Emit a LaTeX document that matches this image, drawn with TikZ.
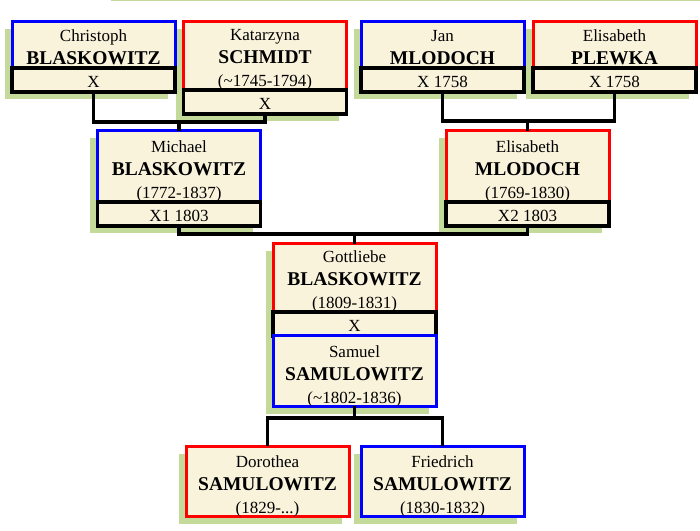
\documentclass[tikz,border=0pt]{standalone}
\usepackage{fontspec}
\setmainfont{Liberation Serif}
\usetikzlibrary{positioning,calc,backgrounds}
\definecolor{cream}{HTML}{FAF3DC}
\definecolor{leaf}{HTML}{C3DA9B}
\newcommand{\famname}[1]{{\fontsize{19.5}{23}\selectfont\bfseries #1}}

\begin{document}
\begin{tikzpicture}[x=1pt,y=1pt,
	box/.style={fill=cream, minimum width=163pt, inner sep=0pt, outer sep=0pt, align=center, font=\fontsize{17}{23}\selectfont},
	person/.style={box, line width=3pt, text depth=3pt},
	man/.style={person, draw=blue},
	woman/.style={person, draw=red},
	wed/.style={box, draw=black, line width=3.4pt, text height=19.5pt, text depth=4.5pt},
	link/.style={black, line width=3.2pt},
	shade/.style={fill=leaf}]
	\useasboundingbox (0,0) rectangle (700,530);
	\fill[shade] (111,528.5) rectangle (700,530);

	% grandparents
	\node[man, text height=43pt, anchor=north] (chr) at (93.5,508) {Christoph\\\famname{BLASKOWITZ}};
	\node[woman, text height=65pt, anchor=north] (kat) at (265,508) {Katarzyna\\\famname{SCHMIDT}\\(\textasciitilde1745-1794)};
	\node[man, text height=43pt, anchor=north] (jan) at (442.5,508) {Jan\\\famname{MLODOCH}};
	\node[woman, text height=43pt, anchor=north] (ple) at (614.5,508) {Elisabeth\\\famname{PLEWKA}};
	\node[wed, below=0pt of chr] (chx) {X};
	\node[wed, below=0pt of kat] (kax) {X};
	\node[wed, below=0pt of jan] (jax) {X 1758};
	\node[wed, below=0pt of ple] (plx) {X 1758};

	% parents
	\node[man, text height=68pt, anchor=north] (mic) at (179,399) {Michael\\\famname{BLASKOWITZ}\\(1772-1837)};
	\node[woman, text height=68pt, anchor=north] (eli) at (527.5,399) {Elisabeth\\\famname{MLODOCH}\\(1769-1830)};
	\node[wed, below=0pt of mic] (mix) {X1 1803};
	\node[wed, below=0pt of eli] (elx) {X2 1803};

	% couple
	\node[woman, text height=65pt, anchor=north] (got) at (354.5,286) {Gottliebe\\\famname{BLASKOWITZ}\\(1809-1831)};
	\node[wed, below=0pt of got] (gox) {X};
	\node[man, text height=67pt, below=0pt of gox] (sam) {Samuel\\\famname{SAMULOWITZ}\\(\textasciitilde1802-1836)};

	% children
	\node[woman, text height=67pt, anchor=north] (dor) at (267.5,84) {Dorothea\\\famname{SAMULOWITZ}\\(1829-...)};
	\node[man, text height=67pt, anchor=north] (fri) at (442.5,84) {Friedrich\\\famname{SAMULOWITZ}\\(1830-1832)};

	% links
	\coordinate (cm1) at ($(mic.north)+(0,9)$);
	\coordinate (cm2) at ($(eli.north)+(0,10)$);
	\coordinate (cm3) at ($(got.north)+(0,10)$);
	\coordinate (kids) at ($(sam.south)+(0,-12)$);
	\draw[link] (chx.south) |- (cm1) -| (kax.south);
	\draw[link] (cm1) -- (mic.north);
	\draw[link] (jax.south) |- (cm2) -| (plx.south);
	\draw[link] (cm2) -- (eli.north);
	\draw[link] (mix.south) |- (cm3) -| (elx.south);
	\draw[link] (cm3) -- (got.north);
	\draw[link] (sam.south) -- (kids);
	\draw[link] (dor.north) |- (kids) -| (fri.north);

	% shadows
	\begin{scope}[on background layer]
		\foreach \a/\b in {chr/chx, kat/kax, jan/jax, ple/plx, mic/mix, eli/elx, got/sam, dor/dor, fri/fri} {
			\fill[shade] ($(\a.north west)+(-7.5,-7.5)$) rectangle ($(\b.south east)+(-7.5,-7.5)$);
		}
	\end{scope}
\end{tikzpicture}
\end{document}
